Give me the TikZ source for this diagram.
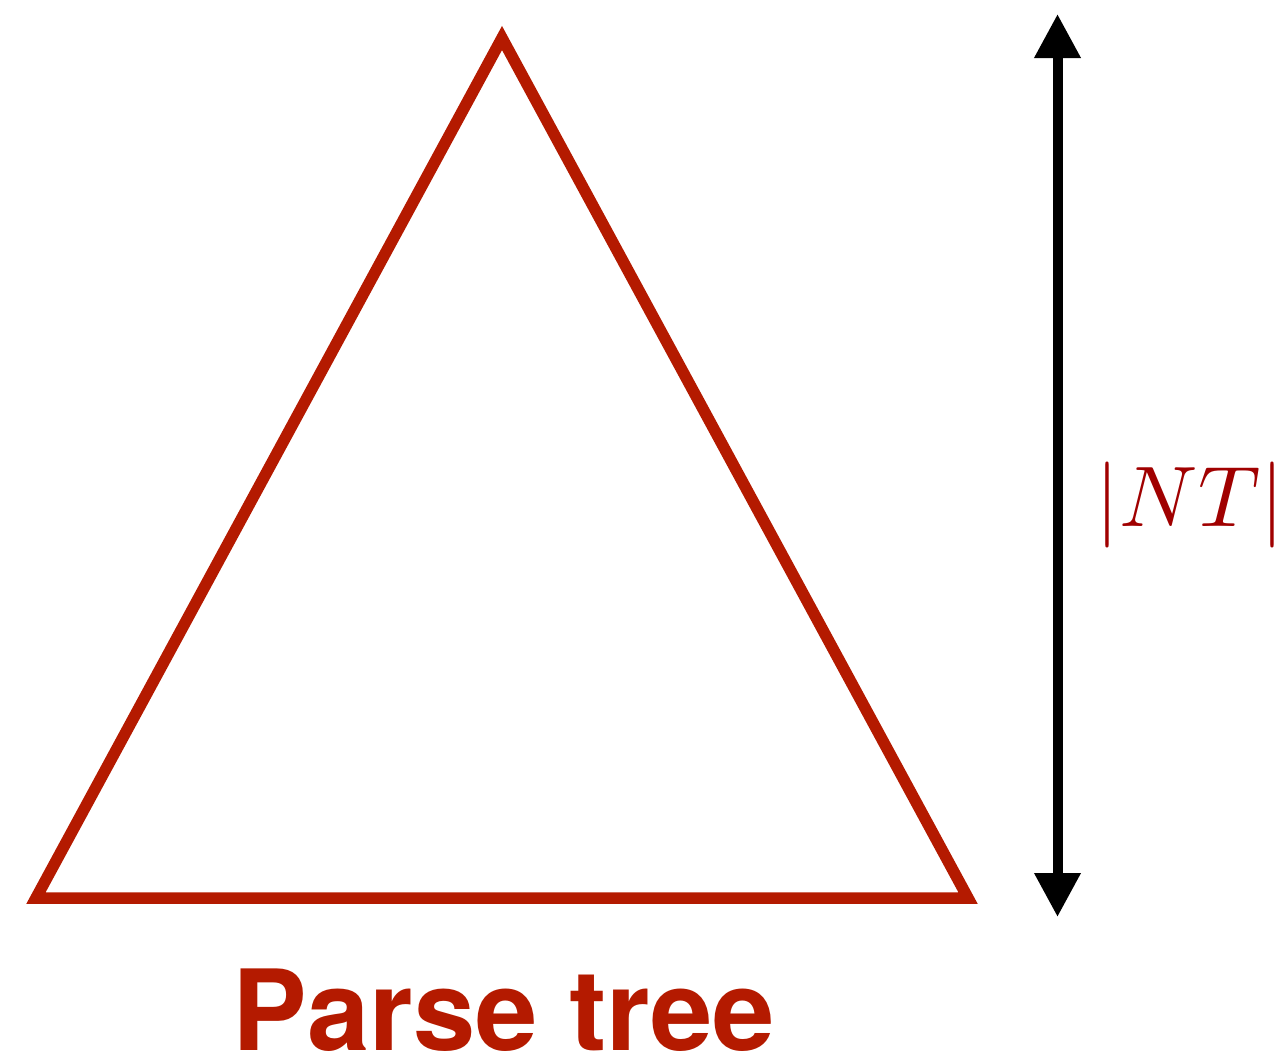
\documentclass[tikz,border=0pt]{standalone}
\usepackage{fontspec}
\usepackage{graphicx}
\newfontfamily\headfont{TeX Gyre Heros}
\usetikzlibrary{arrows.meta}
\definecolor{treered}{HTML}{B41A00}
\definecolor{labelred}{HTML}{A00000}
\begin{document}
\begin{tikzpicture}[x=1pt,y=-1pt]
    \useasboundingbox (0,0) rectangle (1287,1060);
    % the tree
    \draw[treered, line width=11.5pt, line join=miter] (36,898) -- (502,38) -- (968,898) -- cycle;
    % height arrow
    \coordinate (top) at (1057.5,14);
    \coordinate (bot) at (1057.5,917);
    \draw[line width=10pt, {Triangle[width=44pt,length=44pt]}-{Triangle[width=44pt,length=44pt]}] (top) -- (bot);
    \node[text=labelred, inner sep=0pt] (height) at (1190,505) {\scalebox{8.6}{$|NT|$}};
    \node[text=treered, anchor=base, inner sep=0pt, font=\headfont\bfseries\fontsize{112}{120}\selectfont] (name) at (504,1050) {Parse tree};
\end{tikzpicture}
\end{document}
